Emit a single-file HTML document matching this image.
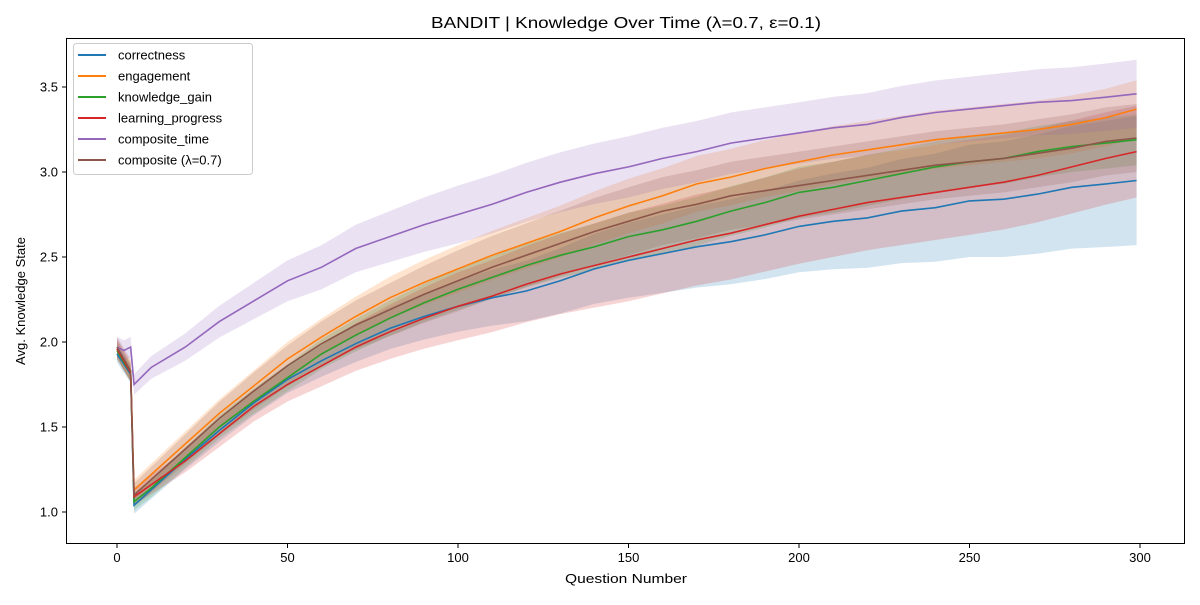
<!DOCTYPE html>
<html><head><meta charset="utf-8"><style>
body{margin:0;background:#fff;}
svg text{font-family:"Liberation Sans","DejaVu Sans",sans-serif;}
</style></head><body>
<svg id="chart" width="1200" height="600" xmlns="http://www.w3.org/2000/svg">
<rect width="1200" height="600" fill="#fff"/>
<g id="bands"></g><g id="lines"></g>
<rect x="66.5" y="38.5" width="1118" height="505" fill="none" stroke="#000" stroke-width="1"/>
<g id="axes"></g>
<text x="626" y="28" text-anchor="middle" font-size="16" textLength="390" lengthAdjust="spacingAndGlyphs">BANDIT | Knowledge Over Time (λ=0.7, ε=0.1)</text>
<text x="626" y="583" text-anchor="middle" font-size="13" textLength="122" lengthAdjust="spacingAndGlyphs">Question Number</text>
<text x="25" y="301" text-anchor="middle" font-size="13" textLength="128" lengthAdjust="spacingAndGlyphs" transform="rotate(-90 25 301)">Avg. Knowledge State</text>
<g id="legend"></g>
</svg>
<script>
const xs=[0,2,4,5,10,20,30,40,50,60,70,80,90,100,110,120,130,140,150,160,170,180,190,200,210,220,230,240,250,260,270,280,290,299];
const seriesNames=["correctness","engagement","knowledge_gain","learning_progress","composite_time","composite (λ=0.7)"];
const colors=["#1f77b4","#ff7f0e","#2ca02c","#d62728","#9467bd","#8c564b"];
const correctness=[1.93,1.87,1.81,1.04,1.13,1.31,1.48,1.64,1.78,1.89,1.99,2.08,2.15,2.21,2.26,2.30,2.36,2.43,2.48,2.52,2.56,2.59,2.63,2.68,2.71,2.73,2.77,2.79,2.83,2.84,2.87,2.91,2.93,2.95];
const engagement=[1.96,1.89,1.83,1.13,1.22,1.40,1.58,1.74,1.90,2.03,2.15,2.26,2.35,2.43,2.51,2.58,2.65,2.73,2.80,2.86,2.93,2.97,3.02,3.06,3.10,3.13,3.16,3.19,3.21,3.23,3.25,3.28,3.32,3.37];
const knowledgeGain=[1.95,1.88,1.82,1.06,1.14,1.32,1.50,1.65,1.79,1.93,2.04,2.14,2.23,2.31,2.38,2.45,2.51,2.56,2.62,2.66,2.71,2.77,2.82,2.88,2.91,2.95,2.99,3.03,3.06,3.08,3.12,3.15,3.17,3.19];
const learningProgress=[1.96,1.89,1.82,1.09,1.16,1.30,1.46,1.62,1.75,1.86,1.97,2.06,2.14,2.21,2.27,2.34,2.40,2.45,2.50,2.55,2.60,2.64,2.69,2.74,2.78,2.82,2.85,2.88,2.91,2.94,2.98,3.03,3.08,3.12];
const compositeTime=[1.97,1.95,1.97,1.75,1.85,1.97,2.12,2.24,2.36,2.44,2.55,2.62,2.69,2.75,2.81,2.88,2.94,2.99,3.03,3.08,3.12,3.17,3.20,3.23,3.26,3.28,3.32,3.35,3.37,3.39,3.41,3.42,3.44,3.46];
const composite=[1.97,1.90,1.83,1.10,1.19,1.37,1.55,1.71,1.86,1.99,2.10,2.19,2.28,2.36,2.44,2.51,2.58,2.65,2.71,2.77,2.81,2.86,2.89,2.92,2.95,2.98,3.01,3.04,3.06,3.08,3.11,3.14,3.18,3.20];
const spreadX=[0,5,50,100,150,200,250,299];
const spreadCorrectness=[0.05,0.05,0.08,0.15,0.22,0.27,0.33,0.38];
const spreadEngagement=[0.05,0.06,0.10,0.14,0.16,0.17,0.17,0.17];
const spreadKnowledge=[0.05,0.05,0.08,0.12,0.14,0.15,0.15,0.15];
const spreadLearning=[0.06,0.05,0.10,0.20,0.26,0.28,0.28,0.27];
const spreadTime=[0.06,0.06,0.12,0.17,0.18,0.18,0.19,0.20];
const spreadComposite=[0.06,0.07,0.12,0.18,0.20,0.20,0.20,0.20];
const xTicks=[0,50,100,150,200,250,300];
const yTicks=[1.0,1.5,2.0,2.5,3.0,3.5];

const series=[correctness,engagement,knowledgeGain,learningProgress,compositeTime,composite];
const spreads=[spreadCorrectness,spreadEngagement,spreadKnowledge,spreadLearning,spreadTime,spreadComposite];
const NS="http://www.w3.org/2000/svg";
const X=v=>117+v*(1140-117)/300;
const Y=v=>512-(v-1)*170;
function spreadAt(arr,x){for(let i=1;i<spreadX.length;i++){if(x<=spreadX[i]){const t=(x-spreadX[i-1])/(spreadX[i]-spreadX[i-1]);return arr[i-1]+t*(arr[i]-arr[i-1]);}}return arr[arr.length-1];}
const bands=document.getElementById('bands'),lines=document.getElementById('lines');
series.forEach((s,k)=>{
  const up=xs.map((x,i)=>X(x)+","+Y(s[i]+spreadAt(spreads[k],x)));
  const dn=xs.map((x,i)=>X(x)+","+Y(s[i]-spreadAt(spreads[k],x))).reverse();
  const b=document.createElementNS(NS,'polygon');
  b.setAttribute('points',up.concat(dn).join(' '));
  b.setAttribute('fill',colors[k]);b.setAttribute('fill-opacity','0.2');
  
  
  bands.appendChild(b);
  const l=document.createElementNS(NS,'polyline');
  l.setAttribute('points',xs.map((x,i)=>X(x)+","+Y(s[i])).join(' '));
  l.setAttribute('fill','none');l.setAttribute('stroke',colors[k]);l.setAttribute('stroke-width','1.6');
  
  
  lines.appendChild(l);
});
const axes=document.getElementById('axes');
xTicks.forEach(t=>{
  const ln=document.createElementNS(NS,'line');
  ln.setAttribute('x1',X(t));ln.setAttribute('x2',X(t));ln.setAttribute('y1',543.5);ln.setAttribute('y2',548);ln.setAttribute('stroke','#000');
  
  
  axes.appendChild(ln);
  const tx=document.createElementNS(NS,'text');
  tx.setAttribute('x',X(t));tx.setAttribute('y',562);tx.setAttribute('text-anchor','middle');tx.setAttribute('font-size','13');
  tx.textContent=t;
  
  
  axes.appendChild(tx);
});
yTicks.forEach(t=>{
  const ln=document.createElementNS(NS,'line');
  ln.setAttribute('x1',62);ln.setAttribute('x2',66.5);ln.setAttribute('y1',Y(t));ln.setAttribute('y2',Y(t));ln.setAttribute('stroke','#000');
  
  
  axes.appendChild(ln);
  const tx=document.createElementNS(NS,'text');
  tx.setAttribute('x',58);tx.setAttribute('y',Y(t)+4.5);tx.setAttribute('text-anchor','end');tx.setAttribute('font-size','13');
  tx.textContent=t.toFixed(1);
  
  
  axes.appendChild(tx);
});
const lg=document.getElementById('legend');
const box=document.createElementNS(NS,'rect');
box.setAttribute('x',73.5);box.setAttribute('y',43.5);box.setAttribute('width',179);box.setAttribute('height',131);box.setAttribute('rx',3);
box.setAttribute('fill','#fff');box.setAttribute('fill-opacity','0.8');box.setAttribute('stroke','#ccc');


lg.appendChild(box);
seriesNames.forEach((n,k)=>{
  const y=55+k*21;
  const ln=document.createElementNS(NS,'line');
  ln.setAttribute('x1',78);ln.setAttribute('x2',106);ln.setAttribute('y1',y);ln.setAttribute('y2',y);ln.setAttribute('stroke',colors[k]);ln.setAttribute('stroke-width','2');
  
  
  lg.appendChild(ln);
  const tx=document.createElementNS(NS,'text');
  tx.setAttribute('x',118);tx.setAttribute('y',y+4.5);tx.setAttribute('font-size','13');
  tx.textContent=n;
  
  
  lg.appendChild(tx);
});
</script>
</body></html>
